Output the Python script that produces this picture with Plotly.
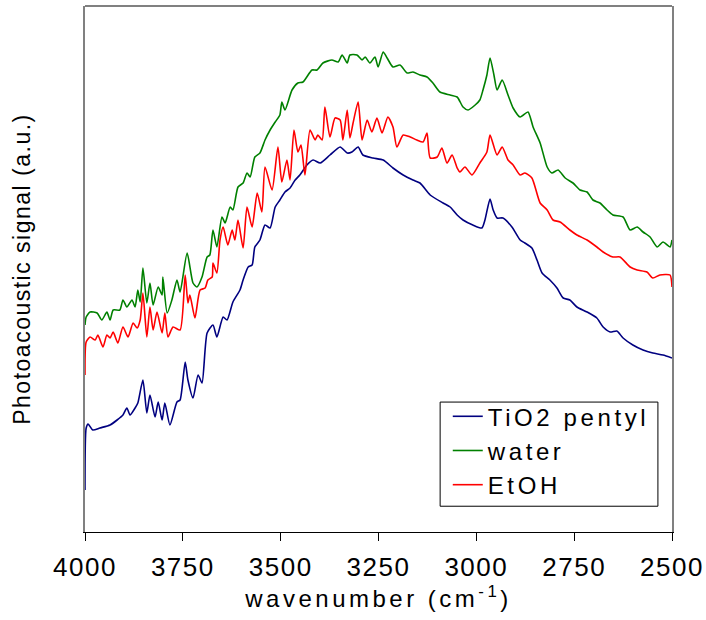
import plotly.graph_objects as go

# ---------------- data ----------------
tio2_wn = [4000, 3997, 3992, 3980, 3962, 3936, 3918, 3903, 3893, 3885, 3872, 3865, 3852, 3842, 3834,
           3821, 3813, 3803, 3796, 3783, 3765, 3757, 3744, 3737, 3724, 3711, 3701, 3688, 3673, 3663,
           3647, 3637, 3622, 3604, 3596, 3583, 3573, 3566, 3553, 3540, 3527, 3514, 3502, 3489, 3476,
           3463, 3451, 3433, 3417, 3399, 3374, 3348, 3330, 3318, 3302, 3290, 3264, 3238, 3213, 3187,
           3162, 3144, 3118, 3085, 3067, 3049, 3034, 3009, 2986, 2978, 2965, 2957, 2947, 2932, 2909,
           2888, 2876, 2858, 2845, 2832, 2812, 2794, 2778, 2761, 2743, 2717, 2692, 2676, 2658, 2641,
           2625, 2600, 2574, 2549, 2523, 2500]
tio2_sig = [8.4, 20.8, 21.6, 20.4, 20.8, 21.4, 22.4, 23.4, 24.8, 23.4, 24.8, 25.8, 30.4, 23.8, 27.4,
            23.0, 26.0, 22.4, 25.8, 21.4, 26.0, 26.4, 34.0, 30.4, 26.8, 31.4, 29.8, 39.8, 41.4, 39.0,
            43.0, 42.4, 46.0, 48.4, 50.4, 53.0, 53.4, 57.0, 58.4, 61.4, 60.8, 65.0, 66.4, 68.0, 68.8,
            70.4, 71.4, 73.4, 74.4, 73.8, 75.4, 77.0, 75.8, 76.0, 77.0, 75.4, 74.8, 74.4, 72.8, 71.4,
            70.4, 69.8, 67.4, 65.8, 65.0, 63.4, 62.4, 61.4, 60.8, 62.4, 66.6, 64.4, 62.8, 62.8, 61.0,
            58.4, 57.8, 56.8, 54.4, 51.8, 50.4, 48.8, 46.8, 46.4, 45.0, 44.0, 42.8, 41.0, 40.0, 40.2,
            38.8, 37.4, 36.4, 35.8, 35.4, 34.8]

water_wn = [4000, 3997, 3987, 3969, 3957, 3944, 3936, 3928, 3911, 3903, 3893, 3880, 3872, 3865, 3859,
            3852, 3842, 3834, 3826, 3813, 3803, 3801, 3790, 3778, 3765, 3757, 3739, 3724, 3714, 3701,
            3688, 3681, 3673, 3663, 3650, 3642, 3629, 3622, 3609, 3596, 3586, 3578, 3566, 3553, 3540,
            3527, 3514, 3502, 3497, 3489, 3471, 3456, 3443, 3420, 3407, 3392, 3369, 3353, 3343, 3330,
            3323, 3305, 3292, 3284, 3272, 3259, 3251, 3238, 3228, 3213, 3195, 3177, 3162, 3144, 3126,
            3111, 3093, 3067, 3049, 3034, 3021, 3003, 2991, 2983, 2973, 2965, 2955, 2947, 2934, 2919,
            2906, 2888, 2868, 2855, 2837, 2819, 2807, 2791, 2773, 2753, 2735, 2717, 2702, 2684, 2666,
            2651, 2625, 2607, 2589, 2574, 2556, 2538, 2523, 2505, 2500]
water_sig = [41.4, 43.0, 44.0, 43.8, 42.4, 44.0, 42.4, 44.4, 44.4, 46.4, 45.0, 46.4, 45.0, 48.4, 46.0,
             52.8, 45.8, 49.8, 45.4, 49.0, 47.4, 51.0, 43.8, 46.4, 50.4, 48.0, 55.8, 49.8, 49.0, 51.0,
             55.0, 55.4, 60.4, 57.0, 63.0, 61.8, 65.0, 64.4, 69.0, 69.8, 71.8, 71.0, 75.0, 75.8, 78.4,
             80.4, 82.0, 83.4, 86.0, 84.4, 88.4, 89.8, 90.0, 92.4, 92.4, 93.8, 94.4, 94.0, 95.4, 93.8,
             95.4, 95.4, 94.4, 95.0, 93.8, 95.0, 93.0, 96.0, 94.8, 93.0, 93.4, 91.8, 92.0, 91.4, 91.0,
             89.8, 88.0, 87.4, 87.0, 85.0, 84.4, 85.4, 86.4, 88.4, 91.4, 94.8, 91.4, 88.4, 90.4, 87.4,
             84.8, 83.0, 84.0, 81.0, 77.8, 73.0, 71.8, 72.4, 70.8, 69.8, 68.4, 68.0, 66.4, 65.8, 64.4,
             63.4, 63.0, 60.4, 61.0, 60.0, 59.0, 57.0, 58.0, 57.0, 58.4]

etoh_wn = [4000, 3997, 3987, 3974, 3967, 3954, 3944, 3936, 3928, 3916, 3903, 3890, 3877, 3867, 3859,
           3852, 3842, 3834, 3826, 3816, 3803, 3796, 3788, 3775, 3757, 3744, 3737, 3732, 3719, 3706,
           3693, 3686, 3675, 3673, 3663, 3655, 3647, 3635, 3624, 3617, 3609, 3596, 3586, 3573, 3560,
           3548, 3540, 3522, 3507, 3497, 3484, 3476, 3466, 3456, 3448, 3438, 3425, 3412, 3405, 3394,
           3387, 3374, 3361, 3348, 3341, 3330, 3323, 3315, 3302, 3292, 3279, 3267, 3254, 3241, 3226,
           3213, 3203, 3187, 3169, 3152, 3136, 3126, 3118, 3100, 3088, 3075, 3062, 3049, 3042, 3029,
           3011, 2991, 2973, 2965, 2947, 2934, 2919, 2906, 2888, 2876, 2858, 2837, 2819, 2804, 2786,
           2761, 2743, 2717, 2692, 2676, 2651, 2633, 2607, 2589, 2564, 2549, 2531, 2505, 2500]
etoh_sig = [31.4, 38.0, 39.0, 38.4, 39.4, 37.0, 39.4, 38.8, 40.0, 37.8, 41.0, 39.0, 41.8, 40.8, 42.4,
            47.8, 39.0, 45.0, 40.4, 44.0, 39.8, 43.8, 39.0, 41.0, 40.4, 51.4, 45.8, 47.4, 42.8, 48.4,
            48.8, 50.4, 51.0, 53.8, 51.8, 58.4, 61.0, 57.4, 60.4, 58.4, 62.4, 56.8, 65.0, 61.0, 67.8,
            64.0, 73.0, 68.4, 77.0, 70.0, 74.4, 70.4, 80.4, 76.0, 77.4, 71.4, 80.4, 78.4, 79.4, 78.4,
            85.0, 79.0, 82.8, 82.4, 78.4, 84.4, 78.8, 81.8, 86.0, 78.4, 82.4, 80.0, 82.8, 79.8, 83.0,
            81.0, 77.0, 79.4, 79.0, 78.4, 78.0, 79.8, 74.8, 75.0, 76.8, 73.8, 75.4, 72.8, 72.0, 73.0,
            71.4, 73.8, 76.0, 79.4, 75.4, 77.0, 74.4, 73.4, 71.4, 71.8, 70.8, 65.8, 64.4, 62.4, 62.0,
            60.4, 59.4, 58.4, 57.0, 56.0, 55.0, 55.0, 53.0, 52.4, 52.0, 50.8, 51.4, 51.4, 49.0]

x_ticks = [4000, 3750, 3500, 3250, 3000, 2750, 2500]
series = [
    ("TiO2 pentyl", tio2_wn, tio2_sig, "#000080"),
    ("water", water_wn, water_sig, "#008000"),
    ("EtOH", etoh_wn, etoh_sig, "#FF0000"),
]

FONT = "Liberation Sans, Arial, sans-serif"

fig = go.Figure()
for i, (name, wn, sig, col) in enumerate(series):
    fig.add_trace(go.Scatter(x=wn, y=sig, mode="lines", name=name, legendgroup=name,
                             line=dict(color=col, width=1.6, shape="spline", smoothing=0.6)))

fig.update_layout(
    width=706, height=620,
    margin=dict(l=85, r=34, t=6, b=88),
    paper_bgcolor="white", plot_bgcolor="white",
    font=dict(family=FONT, color="black"),
    showlegend=True,
    legend=dict(x=0.618, y=0.262, xanchor="left", yanchor="top",
                bgcolor="rgba(0,0,0,0)", borderwidth=0,
                font=dict(family=FONT, size=24, color="black"),
                itemwidth=30, tracegroupgap=0, traceorder="grouped"),
    xaxis=dict(range=[4000, 2500], tickmode="array", tickvals=x_ticks,
               ticktext=[str(t) for t in x_ticks],
               ticks="outside", ticklen=8, tickcolor="black", tickwidth=1,
               ticklabelstandoff=4,
               showline=True, linecolor="black", linewidth=1,
               showgrid=False, zeroline=False,
               tickfont=dict(family=FONT, size=26, color="black"),
               title=dict(text="wavenumber (cm<sup>-1</sup>)",
                          font=dict(family=FONT, size=24, color="black"), standoff=1)),
    yaxis=dict(range=[0, 105.2], showticklabels=False, ticks="",
               showline=True, linecolor="#808080", linewidth=2, mirror=True,
               showgrid=False, zeroline=False,
               title=dict(text="Photoacoustic signal (a.u.)",
                          font=dict(family=FONT, size=23, color="black"), standoff=46)),
    shapes=[
        dict(type="line", xref="x domain", yref="y domain", x0=0, x1=1, y0=1, y1=1,
             line=dict(color="#808080", width=2)),
        dict(type="rect", xref="x domain", yref="y domain", x0=0.605, x1=0.976, y0=0.049, y1=0.247,
             line=dict(color="black", width=1)),
    ],
)

post = """
document.body.style.margin='0';
var st=document.createElement('style');
st.textContent='body{margin:0;} .xtick text{letter-spacing:1.5px;} .legendtext{letter-spacing:3.6px;} .xtitle{letter-spacing:3.5px;} .ytitle{letter-spacing:1.5px;} .legend .scrollbox{clip-path:none !important;}';
document.head.appendChild(st);
"""
fig.write_html("out.html", post_script=post, config={"displayModeBar": False})
